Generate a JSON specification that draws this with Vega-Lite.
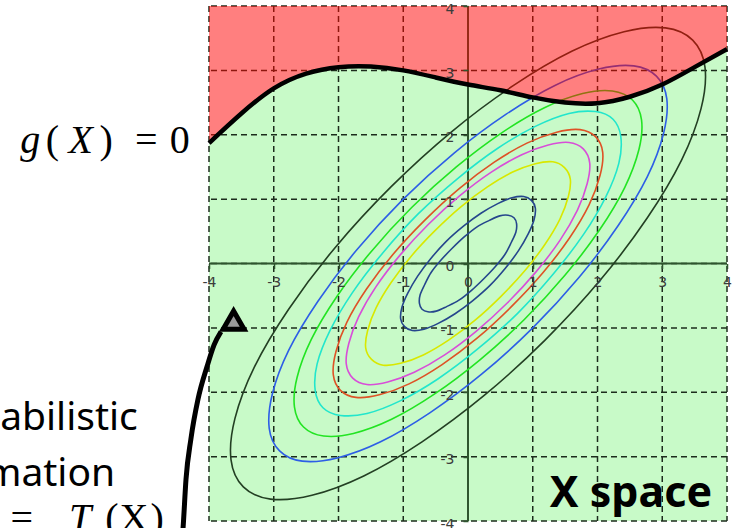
{
  "$schema": "https://vega.github.io/schema/vega-lite/v6.json",
  "width": 518,
  "height": 515,
  "autosize": {"type": "none"},
  "padding": {"left": 209, "top": 6, "right": 13, "bottom": 7},
  "background": "white",
  "config": {
    "view": {"stroke": null},
    "style": {"guide-label": {"font": "DejaVu Sans", "fontSize": 14, "fill": "#3c3c3c"}},
    "axis": {
      "grid": false, "domain": false,
      "labelFont": "DejaVu Sans", "labelFontSize": 14, "labelColor": "#3c3c3c",
      "tickColor": "#2e552e", "tickWidth": 1.5, "tickSize": 5,
      "labelFlush": false, "labelOverlap": false, "labelBound": false
    },
    "axisX": {"labelPadding": 7},
    "axisY": {"labelPadding": 9, "labelOffset": 3}
  },
  "datasets": {
    "limit": [
      {"x": -4, "y": 1.87}, {"x": -3.5, "y": 2.33}, {"x": -3, "y": 2.72}, {"x": -2.5, "y": 2.95},
      {"x": -2, "y": 3.05}, {"x": -1.5, "y": 3.06}, {"x": -1, "y": 3.0}, {"x": -0.5, "y": 2.89},
      {"x": 0, "y": 2.78}, {"x": 0.5, "y": 2.69}, {"x": 1, "y": 2.58}, {"x": 1.5, "y": 2.5},
      {"x": 2, "y": 2.49}, {"x": 2.5, "y": 2.59}, {"x": 3, "y": 2.78}, {"x": 3.5, "y": 3.05},
      {"x": 4, "y": 3.33}
    ],
    "ticks": [
      {"v": -4}, {"v": -3}, {"v": -2}, {"v": -1}, {"v": 0}, {"v": 1}, {"v": 2}, {"v": 3}, {"v": 4}
    ],
    "contours": [
      {"c": 1, "i": 0, "x": 0.71, "y": 0.71}, {"c": 1, "i": 1, "x": 0.62, "y": 0.75}, {"c": 1, "i": 2, "x": 0.49, "y": 0.74}, {"c": 1, "i": 3, "x": 0.33, "y": 0.67},
      {"c": 1, "i": 4, "x": 0.14, "y": 0.57}, {"c": 1, "i": 5, "x": -0.05, "y": 0.42}, {"c": 1, "i": 6, "x": -0.24, "y": 0.24}, {"c": 1, "i": 7, "x": -0.42, "y": 0.05},
      {"c": 1, "i": 8, "x": -0.57, "y": -0.14}, {"c": 1, "i": 9, "x": -0.67, "y": -0.33}, {"c": 1, "i": 10, "x": -0.74, "y": -0.49}, {"c": 1, "i": 11, "x": -0.75, "y": -0.62},
      {"c": 1, "i": 12, "x": -0.71, "y": -0.71}, {"c": 1, "i": 13, "x": -0.62, "y": -0.75}, {"c": 1, "i": 14, "x": -0.49, "y": -0.74}, {"c": 1, "i": 15, "x": -0.33, "y": -0.67},
      {"c": 1, "i": 16, "x": -0.14, "y": -0.57}, {"c": 1, "i": 17, "x": 0.05, "y": -0.42}, {"c": 1, "i": 18, "x": 0.24, "y": -0.24}, {"c": 1, "i": 19, "x": 0.42, "y": -0.05},
      {"c": 1, "i": 20, "x": 0.57, "y": 0.14}, {"c": 1, "i": 21, "x": 0.67, "y": 0.33}, {"c": 1, "i": 22, "x": 0.74, "y": 0.49}, {"c": 1, "i": 23, "x": 0.75, "y": 0.62},

      {"c": 2, "i": 0, "x": 0.98, "y": 0.98}, {"c": 2, "i": 1, "x": 0.86, "y": 1.04}, {"c": 2, "i": 2, "x": 0.68, "y": 1.02}, {"c": 2, "i": 3, "x": 0.46, "y": 0.93},
      {"c": 2, "i": 4, "x": 0.2, "y": 0.78}, {"c": 2, "i": 5, "x": -0.07, "y": 0.58}, {"c": 2, "i": 6, "x": -0.34, "y": 0.34}, {"c": 2, "i": 7, "x": -0.58, "y": 0.07},
      {"c": 2, "i": 8, "x": -0.78, "y": -0.2}, {"c": 2, "i": 9, "x": -0.93, "y": -0.46}, {"c": 2, "i": 10, "x": -1.02, "y": -0.68}, {"c": 2, "i": 11, "x": -1.04, "y": -0.86},
      {"c": 2, "i": 12, "x": -0.98, "y": -0.98}, {"c": 2, "i": 13, "x": -0.86, "y": -1.04}, {"c": 2, "i": 14, "x": -0.68, "y": -1.02}, {"c": 2, "i": 15, "x": -0.46, "y": -0.93},
      {"c": 2, "i": 16, "x": -0.2, "y": -0.78}, {"c": 2, "i": 17, "x": 0.07, "y": -0.58}, {"c": 2, "i": 18, "x": 0.34, "y": -0.34}, {"c": 2, "i": 19, "x": 0.58, "y": -0.07},
      {"c": 2, "i": 20, "x": 0.78, "y": 0.2}, {"c": 2, "i": 21, "x": 0.93, "y": 0.46}, {"c": 2, "i": 22, "x": 1.02, "y": 0.68}, {"c": 2, "i": 23, "x": 1.04, "y": 0.86},

      {"c": 3, "i": 0, "x": 1.49, "y": 1.49}, {"c": 3, "i": 1, "x": 1.31, "y": 1.58}, {"c": 3, "i": 2, "x": 1.04, "y": 1.55}, {"c": 3, "i": 3, "x": 0.69, "y": 1.42},
      {"c": 3, "i": 4, "x": 0.3, "y": 1.19}, {"c": 3, "i": 5, "x": -0.11, "y": 0.88}, {"c": 3, "i": 6, "x": -0.51, "y": 0.51}, {"c": 3, "i": 7, "x": -0.88, "y": 0.11},
      {"c": 3, "i": 8, "x": -1.19, "y": -0.3}, {"c": 3, "i": 9, "x": -1.42, "y": -0.69}, {"c": 3, "i": 10, "x": -1.55, "y": -1.04}, {"c": 3, "i": 11, "x": -1.58, "y": -1.31},
      {"c": 3, "i": 12, "x": -1.49, "y": -1.49}, {"c": 3, "i": 13, "x": -1.31, "y": -1.58}, {"c": 3, "i": 14, "x": -1.04, "y": -1.55}, {"c": 3, "i": 15, "x": -0.69, "y": -1.42},
      {"c": 3, "i": 16, "x": -0.3, "y": -1.19}, {"c": 3, "i": 17, "x": 0.11, "y": -0.88}, {"c": 3, "i": 18, "x": 0.51, "y": -0.51}, {"c": 3, "i": 19, "x": 0.88, "y": -0.11},
      {"c": 3, "i": 20, "x": 1.19, "y": 0.3}, {"c": 3, "i": 21, "x": 1.42, "y": 0.69}, {"c": 3, "i": 22, "x": 1.55, "y": 1.04}, {"c": 3, "i": 23, "x": 1.58, "y": 1.31},

      {"c": 4, "i": 0, "x": 1.78, "y": 1.78}, {"c": 4, "i": 1, "x": 1.56, "y": 1.88}, {"c": 4, "i": 2, "x": 1.24, "y": 1.84}, {"c": 4, "i": 3, "x": 0.83, "y": 1.69},
      {"c": 4, "i": 4, "x": 0.36, "y": 1.42}, {"c": 4, "i": 5, "x": -0.13, "y": 1.05}, {"c": 4, "i": 6, "x": -0.61, "y": 0.61}, {"c": 4, "i": 7, "x": -1.05, "y": 0.13},
      {"c": 4, "i": 8, "x": -1.42, "y": -0.36}, {"c": 4, "i": 9, "x": -1.69, "y": -0.83}, {"c": 4, "i": 10, "x": -1.84, "y": -1.24}, {"c": 4, "i": 11, "x": -1.88, "y": -1.56},
      {"c": 4, "i": 12, "x": -1.78, "y": -1.78}, {"c": 4, "i": 13, "x": -1.56, "y": -1.88}, {"c": 4, "i": 14, "x": -1.24, "y": -1.84}, {"c": 4, "i": 15, "x": -0.83, "y": -1.69},
      {"c": 4, "i": 16, "x": -0.36, "y": -1.42}, {"c": 4, "i": 17, "x": 0.13, "y": -1.05}, {"c": 4, "i": 18, "x": 0.61, "y": -0.61}, {"c": 4, "i": 19, "x": 1.05, "y": -0.13},
      {"c": 4, "i": 20, "x": 1.42, "y": 0.36}, {"c": 4, "i": 21, "x": 1.69, "y": 0.83}, {"c": 4, "i": 22, "x": 1.84, "y": 1.24}, {"c": 4, "i": 23, "x": 1.88, "y": 1.56},

      {"c": 5, "i": 0, "x": 1.97, "y": 1.97}, {"c": 5, "i": 1, "x": 1.73, "y": 2.08}, {"c": 5, "i": 2, "x": 1.37, "y": 2.04}, {"c": 5, "i": 3, "x": 0.91, "y": 1.87},
      {"c": 5, "i": 4, "x": 0.4, "y": 1.57}, {"c": 5, "i": 5, "x": -0.14, "y": 1.16}, {"c": 5, "i": 6, "x": -0.67, "y": 0.67}, {"c": 5, "i": 7, "x": -1.16, "y": 0.14},
      {"c": 5, "i": 8, "x": -1.57, "y": -0.4}, {"c": 5, "i": 9, "x": -1.87, "y": -0.91}, {"c": 5, "i": 10, "x": -2.04, "y": -1.37}, {"c": 5, "i": 11, "x": -2.08, "y": -1.73},
      {"c": 5, "i": 12, "x": -1.97, "y": -1.97}, {"c": 5, "i": 13, "x": -1.73, "y": -2.08}, {"c": 5, "i": 14, "x": -1.37, "y": -2.04}, {"c": 5, "i": 15, "x": -0.91, "y": -1.87},
      {"c": 5, "i": 16, "x": -0.4, "y": -1.57}, {"c": 5, "i": 17, "x": 0.14, "y": -1.16}, {"c": 5, "i": 18, "x": 0.67, "y": -0.67}, {"c": 5, "i": 19, "x": 1.16, "y": -0.14},
      {"c": 5, "i": 20, "x": 1.57, "y": 0.4}, {"c": 5, "i": 21, "x": 1.87, "y": 0.91}, {"c": 5, "i": 22, "x": 2.04, "y": 1.37}, {"c": 5, "i": 23, "x": 2.08, "y": 1.73},

      {"c": 6, "i": 0, "x": 2.24, "y": 2.24}, {"c": 6, "i": 1, "x": 1.97, "y": 2.36}, {"c": 6, "i": 2, "x": 1.56, "y": 2.33}, {"c": 6, "i": 3, "x": 1.04, "y": 2.13},
      {"c": 6, "i": 4, "x": 0.46, "y": 1.79}, {"c": 6, "i": 5, "x": -0.16, "y": 1.32}, {"c": 6, "i": 6, "x": -0.77, "y": 0.77}, {"c": 6, "i": 7, "x": -1.32, "y": 0.16},
      {"c": 6, "i": 8, "x": -1.79, "y": -0.46}, {"c": 6, "i": 9, "x": -2.13, "y": -1.04}, {"c": 6, "i": 10, "x": -2.33, "y": -1.56}, {"c": 6, "i": 11, "x": -2.36, "y": -1.97},
      {"c": 6, "i": 12, "x": -2.24, "y": -2.24}, {"c": 6, "i": 13, "x": -1.97, "y": -2.36}, {"c": 6, "i": 14, "x": -1.56, "y": -2.33}, {"c": 6, "i": 15, "x": -1.04, "y": -2.13},
      {"c": 6, "i": 16, "x": -0.46, "y": -1.79}, {"c": 6, "i": 17, "x": 0.16, "y": -1.32}, {"c": 6, "i": 18, "x": 0.77, "y": -0.77}, {"c": 6, "i": 19, "x": 1.32, "y": -0.16},
      {"c": 6, "i": 20, "x": 1.79, "y": 0.46}, {"c": 6, "i": 21, "x": 2.13, "y": 1.04}, {"c": 6, "i": 22, "x": 2.33, "y": 1.56}, {"c": 6, "i": 23, "x": 2.36, "y": 1.97},

      {"c": 7, "i": 0, "x": 2.54, "y": 2.54}, {"c": 7, "i": 1, "x": 2.23, "y": 2.68}, {"c": 7, "i": 2, "x": 1.77, "y": 2.64}, {"c": 7, "i": 3, "x": 1.18, "y": 2.42},
      {"c": 7, "i": 4, "x": 0.52, "y": 2.03}, {"c": 7, "i": 5, "x": -0.18, "y": 1.5}, {"c": 7, "i": 6, "x": -0.87, "y": 0.87}, {"c": 7, "i": 7, "x": -1.5, "y": 0.18},
      {"c": 7, "i": 8, "x": -2.03, "y": -0.52}, {"c": 7, "i": 9, "x": -2.42, "y": -1.18}, {"c": 7, "i": 10, "x": -2.64, "y": -1.77}, {"c": 7, "i": 11, "x": -2.68, "y": -2.23},
      {"c": 7, "i": 12, "x": -2.54, "y": -2.54}, {"c": 7, "i": 13, "x": -2.23, "y": -2.68}, {"c": 7, "i": 14, "x": -1.77, "y": -2.64}, {"c": 7, "i": 15, "x": -1.18, "y": -2.42},
      {"c": 7, "i": 16, "x": -0.52, "y": -2.03}, {"c": 7, "i": 17, "x": 0.18, "y": -1.5}, {"c": 7, "i": 18, "x": 0.87, "y": -0.87}, {"c": 7, "i": 19, "x": 1.5, "y": -0.18},
      {"c": 7, "i": 20, "x": 2.03, "y": 0.52}, {"c": 7, "i": 21, "x": 2.42, "y": 1.18}, {"c": 7, "i": 22, "x": 2.64, "y": 1.77}, {"c": 7, "i": 23, "x": 2.68, "y": 2.23},

      {"c": 8, "i": 0, "x": 2.91, "y": 2.91}, {"c": 8, "i": 1, "x": 2.56, "y": 3.07}, {"c": 8, "i": 2, "x": 2.02, "y": 3.02}, {"c": 8, "i": 3, "x": 1.35, "y": 2.77},
      {"c": 8, "i": 4, "x": 0.59, "y": 2.32}, {"c": 8, "i": 5, "x": -0.21, "y": 1.72}, {"c": 8, "i": 6, "x": -1.0, "y": 1.0}, {"c": 8, "i": 7, "x": -1.72, "y": 0.21},
      {"c": 8, "i": 8, "x": -2.32, "y": -0.59}, {"c": 8, "i": 9, "x": -2.77, "y": -1.35}, {"c": 8, "i": 10, "x": -3.02, "y": -2.02}, {"c": 8, "i": 11, "x": -3.07, "y": -2.56},
      {"c": 8, "i": 12, "x": -2.91, "y": -2.91}, {"c": 8, "i": 13, "x": -2.56, "y": -3.07}, {"c": 8, "i": 14, "x": -2.02, "y": -3.02}, {"c": 8, "i": 15, "x": -1.35, "y": -2.77},
      {"c": 8, "i": 16, "x": -0.59, "y": -2.32}, {"c": 8, "i": 17, "x": 0.21, "y": -1.72}, {"c": 8, "i": 18, "x": 1.0, "y": -1.0}, {"c": 8, "i": 19, "x": 1.72, "y": -0.21},
      {"c": 8, "i": 20, "x": 2.32, "y": 0.59}, {"c": 8, "i": 21, "x": 2.77, "y": 1.35}, {"c": 8, "i": 22, "x": 3.02, "y": 2.02}, {"c": 8, "i": 23, "x": 3.07, "y": 2.56},

      {"c": 9, "i": 0, "x": 3.47, "y": 3.47}, {"c": 9, "i": 1, "x": 3.05, "y": 3.66}, {"c": 9, "i": 2, "x": 2.41, "y": 3.6}, {"c": 9, "i": 3, "x": 1.61, "y": 3.3},
      {"c": 9, "i": 4, "x": 0.71, "y": 2.77}, {"c": 9, "i": 5, "x": -0.25, "y": 2.05}, {"c": 9, "i": 6, "x": -1.19, "y": 1.19}, {"c": 9, "i": 7, "x": -2.05, "y": 0.25},
      {"c": 9, "i": 8, "x": -2.77, "y": -0.71}, {"c": 9, "i": 9, "x": -3.3, "y": -1.61}, {"c": 9, "i": 10, "x": -3.6, "y": -2.41}, {"c": 9, "i": 11, "x": -3.66, "y": -3.05},
      {"c": 9, "i": 12, "x": -3.47, "y": -3.47}, {"c": 9, "i": 13, "x": -3.05, "y": -3.66}, {"c": 9, "i": 14, "x": -2.41, "y": -3.6}, {"c": 9, "i": 15, "x": -1.61, "y": -3.3},
      {"c": 9, "i": 16, "x": -0.71, "y": -2.77}, {"c": 9, "i": 17, "x": 0.25, "y": -2.05}, {"c": 9, "i": 18, "x": 1.19, "y": -1.19}, {"c": 9, "i": 19, "x": 2.05, "y": -0.25},
      {"c": 9, "i": 20, "x": 2.77, "y": 0.71}, {"c": 9, "i": 21, "x": 3.3, "y": 1.61}, {"c": 9, "i": 22, "x": 3.6, "y": 2.41}, {"c": 9, "i": 23, "x": 3.66, "y": 3.05}
    ],
    "arrow": [
      {"x": -4.42, "y": -4.36}, {"x": -4.4, "y": -4.1}, {"x": -4.355, "y": -3.35}, {"x": -4.28, "y": -2.73},
      {"x": -4.17, "y": -2.11}, {"x": -4.03, "y": -1.6}, {"x": -3.92, "y": -1.26}, {"x": -3.815, "y": -1.06}
    ],
    "head": [{"x": -3.62, "y": -0.88}],
    "sans": [
      {"t": "Probabilistic", "x": -5.1, "y": -2.58},
      {"t": "transformation", "x": -5.45, "y": -3.46}
    ],
    "caption": [{"t": "X space", "x": 3.77, "y": -3.79}],
    "upright": [
      {"t": "(", "x": -6.42, "y": 1.71}, {"t": ")", "x": -5.59, "y": 1.71},
      {"t": "=", "x": -4.97, "y": 1.71}, {"t": "0", "x": -4.45, "y": 1.71},
      {"t": "=", "x": -6.89, "y": -4.15}, {"t": "(", "x": -5.5, "y": -4.15},
      {"t": "X", "x": -5.16, "y": -4.15}, {"t": ")", "x": -4.8, "y": -4.15}
    ],
    "italic": [
      {"t": "g", "x": -6.76, "y": 1.71}, {"t": "X", "x": -5.98, "y": 1.71},
      {"t": "T", "x": -5.99, "y": -4.15}
    ]
  },
  "layer": [
    {
      "data": {"name": "limit"},
      "mark": {"type": "area", "color": "#c8fac8", "interpolate": "natural"},
      "encoding": {
        "x": {"field": "x", "type": "quantitative", "title": null,
          "scale": {"domain": [-4, 4], "nice": false, "zero": false},
          "axis": {"title": null, "orient": "bottom", "offset": -257.5,
            "values": [-4, -3.5, -3, -2.5, -2, -1.5, -1, -0.5, 0, 0.5, 1, 1.5, 2, 2.5, 3, 3.5, 4],
            "labelExpr": "datum.value % 1 === 0 ? '' + datum.value : ''",
            "labelFontSize": 14, "labelPadding": 7, "tickSize": 5, "zindex": 1}},
        "y": {"field": "y", "type": "quantitative", "title": null,
          "scale": {"domain": [-4, 4], "nice": false, "zero": false},
          "axis": {"title": null, "orient": "left", "offset": -259,
            "values": [-4, -3.5, -3, -2.5, -2, -1.5, -1, -0.5, 0, 0.5, 1, 1.5, 2, 2.5, 3, 3.5, 4],
            "labelExpr": "datum.value % 1 === 0 ? '' + datum.value : ''",
            "labelFontSize": 14, "labelPadding": 9, "tickSize": 5, "zindex": 1}},
        "y2": {"datum": -4}
      }
    },
    {
      "data": {"name": "ticks"},
      "mark": {"type": "rule", "color": "#1c2c1c", "strokeWidth": 1.5, "strokeDash": [6, 4]},
      "encoding": {
        "x": {"field": "v", "type": "quantitative", "title": null, "scale": {"domain": [-4, 4], "nice": false, "zero": false}}
      }
    },
    {
      "data": {"name": "ticks"},
      "mark": {"type": "rule", "color": "#1c2c1c", "strokeWidth": 1.5, "strokeDash": [6, 4]},
      "encoding": {
        "y": {"field": "v", "type": "quantitative", "title": null, "scale": {"domain": [-4, 4], "nice": false, "zero": false}}
      }
    },
    {
      "data": {"values": [{"v": 0}]},
      "mark": {"type": "rule", "color": "#2e552e", "strokeWidth": 2},
      "encoding": {
        "x": {"field": "v", "type": "quantitative", "title": null, "scale": {"domain": [-4, 4], "nice": false, "zero": false}}
      }
    },
    {
      "data": {"values": [{"v": 0}]},
      "mark": {"type": "rule", "color": "#2e552e", "strokeWidth": 2},
      "encoding": {
        "y": {"field": "v", "type": "quantitative", "title": null, "scale": {"domain": [-4, 4], "nice": false, "zero": false}}
      }
    },
    {
      "data": {"name": "contours"},
      "mark": {"type": "line", "interpolate": "cardinal-closed", "strokeWidth": 1.6},
      "encoding": {
        "x": {"field": "x", "type": "quantitative", "title": null, "scale": {"domain": [-4, 4], "nice": false, "zero": false}},
        "y": {"field": "y", "type": "quantitative", "title": null, "scale": {"domain": [-4, 4], "nice": false, "zero": false}},
        "color": {"field": "c", "type": "nominal", "legend": null,
          "scale": {"domain": [1, 2, 3, 4, 5, 6, 7, 8, 9],
            "range": ["#25468c", "#25468c", "#d8e800", "#d84ed8", "#de5226", "#22e6cc", "#22e422", "#2d5ee6", "#233f23"]}},
        "order": {"field": "i", "type": "quantitative"}
      }
    },
    {
      "data": {"name": "limit"},
      "mark": {"type": "area", "color": "#ff0000", "opacity": 0.5, "interpolate": "natural"},
      "encoding": {
        "x": {"field": "x", "type": "quantitative", "title": null, "scale": {"domain": [-4, 4], "nice": false, "zero": false}},
        "y": {"field": "y", "type": "quantitative", "title": null, "scale": {"domain": [-4, 4], "nice": false, "zero": false}},
        "y2": {"datum": 4}
      }
    },
    {
      "data": {"name": "limit"},
      "mark": {"type": "line", "color": "black", "strokeWidth": 4.5, "interpolate": "natural"},
      "encoding": {
        "x": {"field": "x", "type": "quantitative", "title": null, "scale": {"domain": [-4, 4], "nice": false, "zero": false}},
        "y": {"field": "y", "type": "quantitative", "title": null, "scale": {"domain": [-4, 4], "nice": false, "zero": false}}
      }
    },
    {
      "data": {"name": "arrow"},
      "mark": {"type": "line", "color": "black", "strokeWidth": 5, "interpolate": "monotone", "clip": false},
      "encoding": {
        "x": {"field": "x", "type": "quantitative", "title": null, "scale": {"domain": [-4, 4], "nice": false, "zero": false}},
        "y": {"field": "y", "type": "quantitative", "title": null, "scale": {"domain": [-4, 4], "nice": false, "zero": false}}
      }
    },
    {
      "data": {"name": "head"},
      "mark": {"type": "point", "shape": "triangle-up", "size": 440, "filled": true, "fill": "#9a9a9a", "stroke": "black", "strokeWidth": 5, "opacity": 1},
      "encoding": {
        "x": {"field": "x", "type": "quantitative", "title": null, "scale": {"domain": [-4, 4], "nice": false, "zero": false}},
        "y": {"field": "y", "type": "quantitative", "title": null, "scale": {"domain": [-4, 4], "nice": false, "zero": false}}
      }
    },
    {
      "data": {"name": "sans"},
      "mark": {"type": "text", "font": "Noto Sans", "fontSize": 39, "align": "right", "baseline": "alphabetic", "color": "black"},
      "encoding": {
        "x": {"field": "x", "type": "quantitative", "title": null, "scale": {"domain": [-4, 4], "nice": false, "zero": false}},
        "y": {"field": "y", "type": "quantitative", "title": null, "scale": {"domain": [-4, 4], "nice": false, "zero": false}},
        "text": {"field": "t"}
      }
    },
    {
      "data": {"name": "caption"},
      "mark": {"type": "text", "font": "Noto Sans", "fontSize": 43, "fontWeight": "bold", "align": "right", "baseline": "alphabetic", "color": "black"},
      "encoding": {
        "x": {"field": "x", "type": "quantitative", "title": null, "scale": {"domain": [-4, 4], "nice": false, "zero": false}},
        "y": {"field": "y", "type": "quantitative", "title": null, "scale": {"domain": [-4, 4], "nice": false, "zero": false}},
        "text": {"field": "t"}
      }
    },
    {
      "data": {"name": "upright"},
      "mark": {"type": "text", "font": "Liberation Serif", "fontSize": 40, "align": "center", "baseline": "alphabetic", "color": "black"},
      "encoding": {
        "x": {"field": "x", "type": "quantitative", "title": null, "scale": {"domain": [-4, 4], "nice": false, "zero": false}},
        "y": {"field": "y", "type": "quantitative", "title": null, "scale": {"domain": [-4, 4], "nice": false, "zero": false}},
        "text": {"field": "t"}
      }
    },
    {
      "data": {"name": "italic"},
      "mark": {"type": "text", "font": "Liberation Serif", "fontSize": 40, "fontStyle": "italic", "align": "center", "baseline": "alphabetic", "color": "black"},
      "encoding": {
        "x": {"field": "x", "type": "quantitative", "title": null, "scale": {"domain": [-4, 4], "nice": false, "zero": false}},
        "y": {"field": "y", "type": "quantitative", "title": null, "scale": {"domain": [-4, 4], "nice": false, "zero": false}},
        "text": {"field": "t"}
      }
    }
  ]
}
